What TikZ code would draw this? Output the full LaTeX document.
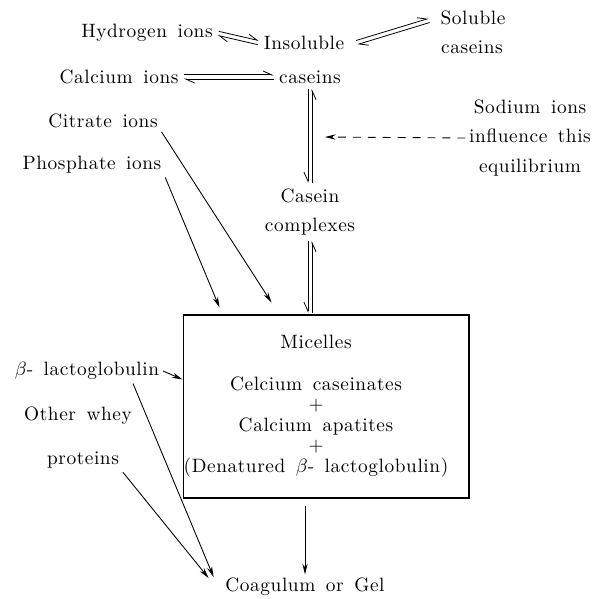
\documentclass[tikz,border=0pt]{standalone}
\usepackage{fontspec}
\setmainfont{lmroman10-regular}[Extension=.otf, LetterSpace=3, WordSpace=1.5]
\usepackage{tikz}
\usetikzlibrary{arrows.meta}
\usetikzlibrary{positioning}
\usetikzlibrary{calc}
\tikzstyle{lbl} = [inner sep=2pt, 
font=\fontsize{11}{17}\selectfont, 
align=center]
\tikzstyle{micbox} = [rectangle, 
minimum width=5.72cm, 
minimum height=3.66cm,
line width=0.6pt,
draw=black]
\tikzstyle{line} = [draw, line width=0.5pt, -{Stealth[length=6pt,width=3pt]}]
\tikzstyle{dline} = [line, dash pattern=on 4.5pt off 4pt]
\tikzstyle{harp} = [draw, line width=0.45pt, shorten <=1pt, shorten >=1pt]
\newcommand{\eqarrow}[4]{%
\path [harp, -{Straight Barb[#2,length=5pt,width=4.5pt]}] ($(#3)!#1!90:(#4)$) -- ($(#4)!#1!-90:(#3)$);
\path [harp, -{Straight Barb[#2,length=5pt,width=4.5pt]}] ($(#4)!#1!90:(#3)$) -- ($(#3)!#1!-90:(#4)$);}

\begin{document}
\begin{tikzpicture}[x=0.02cm, y=-0.02cm]
\useasboundingbox (0,0) rectangle (604,598);

\node [lbl] (hyd) at (147,33) {Hydrogen ions};
\node [lbl] (ins) at (304,43) {Insoluble};
\node [lbl] (cas) at (310,77) {caseins};
\node [lbl] (cal) at (119,77) {Calcium ions};
\node [lbl] (sol) at (473,18) {Soluble};
\node [lbl] (solc) at (472,47) {caseins};
\node [lbl] (sod) at (530,138) {Sodium ions\\influence this\\equilibrium};
\node [lbl] (cit) at (103,121) {Citrate ions};
\node [lbl] (phos) at (92,165) {Phosphate ions};
\node [lbl] (cx) at (310,212) {Casein\\complexes};
\node [micbox] (mic) at (326,406.5) {};
\node [lbl, font=\fontsize{11}{11.6}\selectfont] (micin) at (316,406) {Micelles\\[12.3pt]Celcium caseinates\\$+$\\Calcium apatites\\$+$\\(Denatured $\beta$- lactoglobulin)};
\node [lbl] (blg) at (87,371) {$\beta$- lactoglobulin};
\node [lbl] (whey) at (78,416) {Other whey};
\node [lbl] (prot) at (83,460) {proteins};
\node [lbl] (coag) at (305,587) {Coagulum or Gel};

\coordinate (naeq) at (325,137);
\coordinate (insr) at ($(ins.east)+(7,0)$);
\coordinate (soll) at ($(sol.west)+(-6,2)$);
\coordinate (micn) at (cx.south |- mic.north);
\coordinate (citend) at ($(mic.north west)+(89,-12)$);
\coordinate (phosend) at ($(mic.north west)+(37,-7)$);
\coordinate (blgend) at ($(mic.north west)+(0,65)$);
\coordinate (gin1) at ($(coag.west)+(-8,-10)$);
\coordinate (gin2) at ($(coag.west)+(-13,-9)$);

\eqarrow{1.2pt}{left}{hyd.east}{ins.west}
\eqarrow{1.2pt}{left}{cal.east}{cas.west}
\eqarrow{1.2pt}{left}{insr}{soll}
\eqarrow{-1.2pt}{right}{cas.south}{cx.north}
\eqarrow{-1.2pt}{right}{cx.south}{micn}

\path [dline] (sod.west) -- (naeq);
\path [line] (cit.south east) -- (citend);
\path [line] (phos.south east) -- (phosend);
\path [line] (blg.east) -- (blgend);
\path [line] ($(blg.south east)+(-30,0)$) -- (gin1);
\path [line] (prot.south east) -- (gin2);
\path [line, shorten <=4pt] (coag.north |- mic.south) -- (coag.north);

\end{tikzpicture}
\end{document}
